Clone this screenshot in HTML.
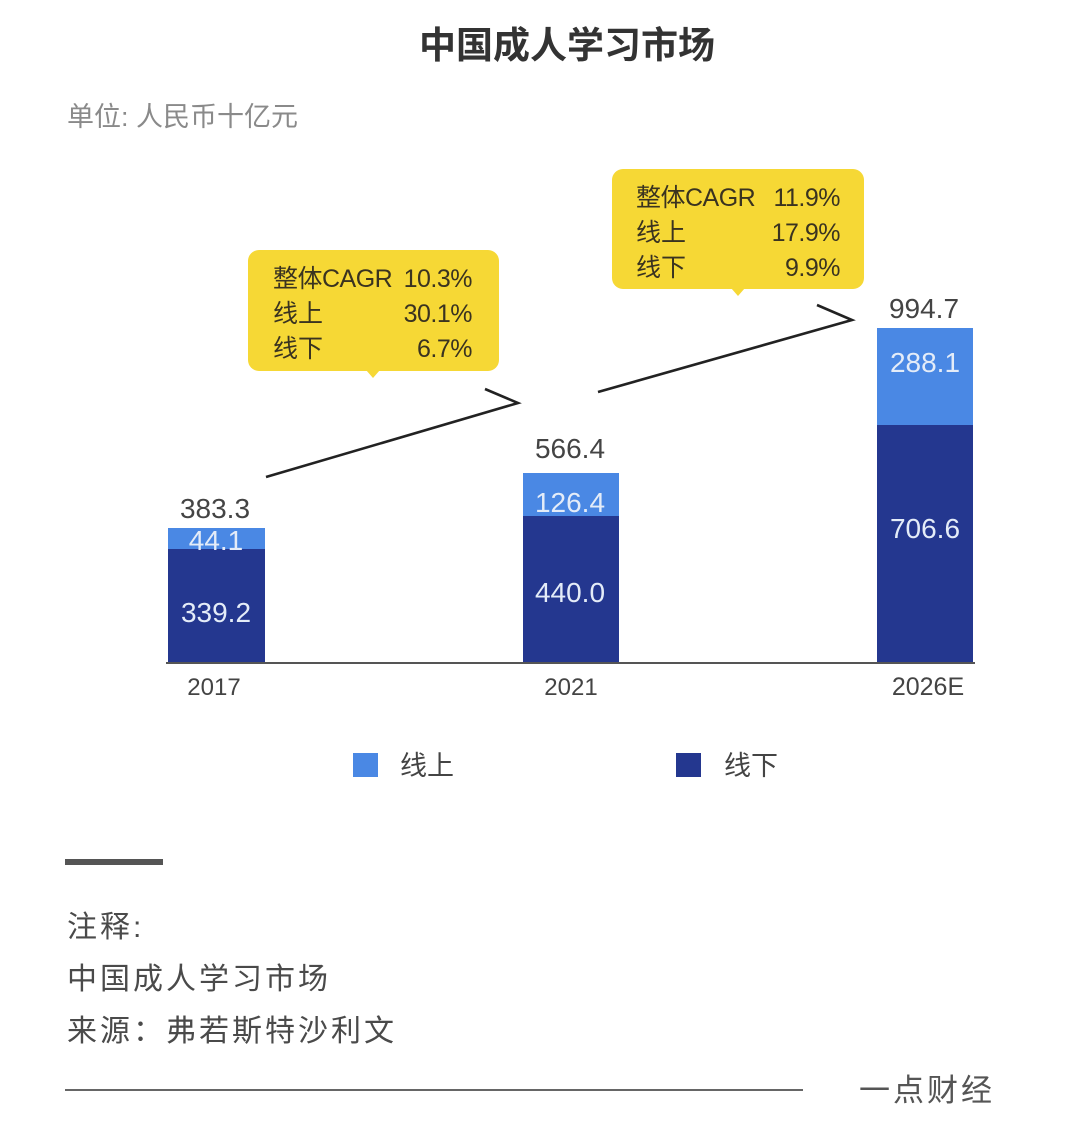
<!DOCTYPE html>
<html>
<head>
<meta charset="utf-8">
<style>
  html, body { margin: 0; padding: 0; background: #ffffff; }
  body { width: 1080px; height: 1134px; overflow: hidden; }
  svg { display: block; }
  .cjk { font-family: "Liberation Sans", "Noto Sans CJK SC", sans-serif; }
</style>
</head>
<body>
<svg width="1080" height="1134" viewBox="0 0 1080 1134" xmlns="http://www.w3.org/2000/svg" class="cjk">
  <rect x="0" y="0" width="1080" height="1134" fill="#ffffff"/>

  <!-- Title -->
  <text x="567" y="58" text-anchor="middle" font-size="37" font-weight="bold" fill="#333333" font-family="Liberation Sans, Noto Sans CJK SC, sans-serif">中国成人学习市场</text>

  <!-- Unit -->
  <text x="67" y="126" font-size="27" fill="#8a8a8a" font-family="Liberation Sans, Noto Sans CJK SC, sans-serif">单位: 人民币十亿元</text>

  <!-- Callout box 1 -->
  <rect x="248" y="250" width="251" height="121" rx="11" ry="11" fill="#f6d835"/>
  <polygon points="366,370 380,370 373,378" fill="#f6d835"/>
  <g font-size="25" fill="#3a3320" font-family="Liberation Sans, Noto Sans CJK SC, sans-serif">
    <text x="273" y="287" letter-spacing="-0.5">整体CAGR</text>
    <text x="472" y="287" text-anchor="end" letter-spacing="-0.5">10.3%</text>
    <text x="273" y="322">线上</text>
    <text x="472" y="322" text-anchor="end" letter-spacing="-0.5">30.1%</text>
    <text x="273" y="357">线下</text>
    <text x="472" y="357" text-anchor="end" letter-spacing="-0.5">6.7%</text>
  </g>

  <!-- Callout box 2 -->
  <rect x="612" y="169" width="252" height="120" rx="11" ry="11" fill="#f6d835"/>
  <polygon points="731,288 745,288 738,296" fill="#f6d835"/>
  <g font-size="25" fill="#3a3320" font-family="Liberation Sans, Noto Sans CJK SC, sans-serif">
    <text x="636" y="206" letter-spacing="-0.5">整体CAGR</text>
    <text x="840" y="206" text-anchor="end" letter-spacing="-0.5">11.9%</text>
    <text x="636" y="241">线上</text>
    <text x="840" y="241" text-anchor="end" letter-spacing="-0.5">17.9%</text>
    <text x="636" y="276">线下</text>
    <text x="840" y="276" text-anchor="end" letter-spacing="-0.5">9.9%</text>
  </g>

  <!-- Growth arrows -->
  <polyline points="266,477 518,403 485,389" fill="none" stroke="#222222" stroke-width="2.6" stroke-linejoin="miter"/>
  <polyline points="598,392 852,320 817,305" fill="none" stroke="#222222" stroke-width="2.6" stroke-linejoin="miter"/>

  <!-- Bars -->
  <defs>
    <clipPath id="c2017"><rect x="168" y="528" width="97" height="135"/></clipPath>
  </defs>
  <!-- 2017 -->
  <rect x="168" y="528" width="97" height="21" fill="#4a88e4"/>
  <rect x="168" y="549" width="97" height="114" fill="#24378f"/>
  <!-- 2021 -->
  <rect x="523" y="473" width="96" height="43" fill="#4a88e4"/>
  <rect x="523" y="516" width="96" height="147" fill="#24378f"/>
  <!-- 2026E -->
  <rect x="877" y="328" width="96" height="97" fill="#4a88e4"/>
  <rect x="877" y="425" width="96" height="238" fill="#24378f"/>

  <!-- Axis line -->
  <line x1="166" y1="663" x2="975" y2="663" stroke="#555555" stroke-width="2"/>

  <!-- Totals -->
  <g font-size="28" fill="#444444" text-anchor="middle" font-family="Liberation Sans, sans-serif">
    <text x="215" y="518">383.3</text>
    <text x="570" y="458">566.4</text>
    <text x="924" y="318">994.7</text>
  </g>

  <!-- Inner values -->
  <g font-size="28" fill="#e4ecf8" text-anchor="middle" font-family="Liberation Sans, sans-serif">
    <text x="216" y="550" clip-path="url(#c2017)">44.1</text>
    <text x="216" y="622">339.2</text>
    <text x="570" y="512">126.4</text>
    <text x="570" y="602">440.0</text>
    <text x="925" y="372">288.1</text>
    <text x="925" y="538">706.6</text>
  </g>

  <!-- Category labels -->
  <g font-size="24" fill="#444444" text-anchor="middle" font-family="Liberation Sans, sans-serif">
    <text x="214" y="695">2017</text>
    <text x="571" y="695">2021</text>
    <text x="928" y="695" font-size="25">2026E</text>
  </g>

  <!-- Legend -->
  <rect x="353" y="753" width="25" height="24" fill="#4a88e4"/>
  <text x="400" y="775" font-size="27" fill="#444444" font-family="Liberation Sans, Noto Sans CJK SC, sans-serif">线上</text>
  <rect x="676" y="753" width="25" height="24" fill="#24378f"/>
  <text x="724" y="775" font-size="27" fill="#444444" font-family="Liberation Sans, Noto Sans CJK SC, sans-serif">线下</text>

  <!-- Footer -->
  <rect x="65" y="859" width="98" height="6" fill="#555555"/>
  <g font-size="30" fill="#4a4a4a" letter-spacing="3" font-family="Liberation Sans, Noto Sans CJK SC, sans-serif">
    <text x="67" y="937">注释:</text>
    <text x="67" y="989">中国成人学习市场</text>
    <text x="67" y="1041">来源：弗若斯特沙利文</text>
  </g>
  <line x1="65" y1="1090" x2="803" y2="1090" stroke="#666666" stroke-width="2"/>
  <text x="859" y="1101" font-size="31" fill="#555555" letter-spacing="3" font-family="Liberation Sans, Noto Sans CJK SC, sans-serif">一点财经</text>
</svg>
</body>
</html>
